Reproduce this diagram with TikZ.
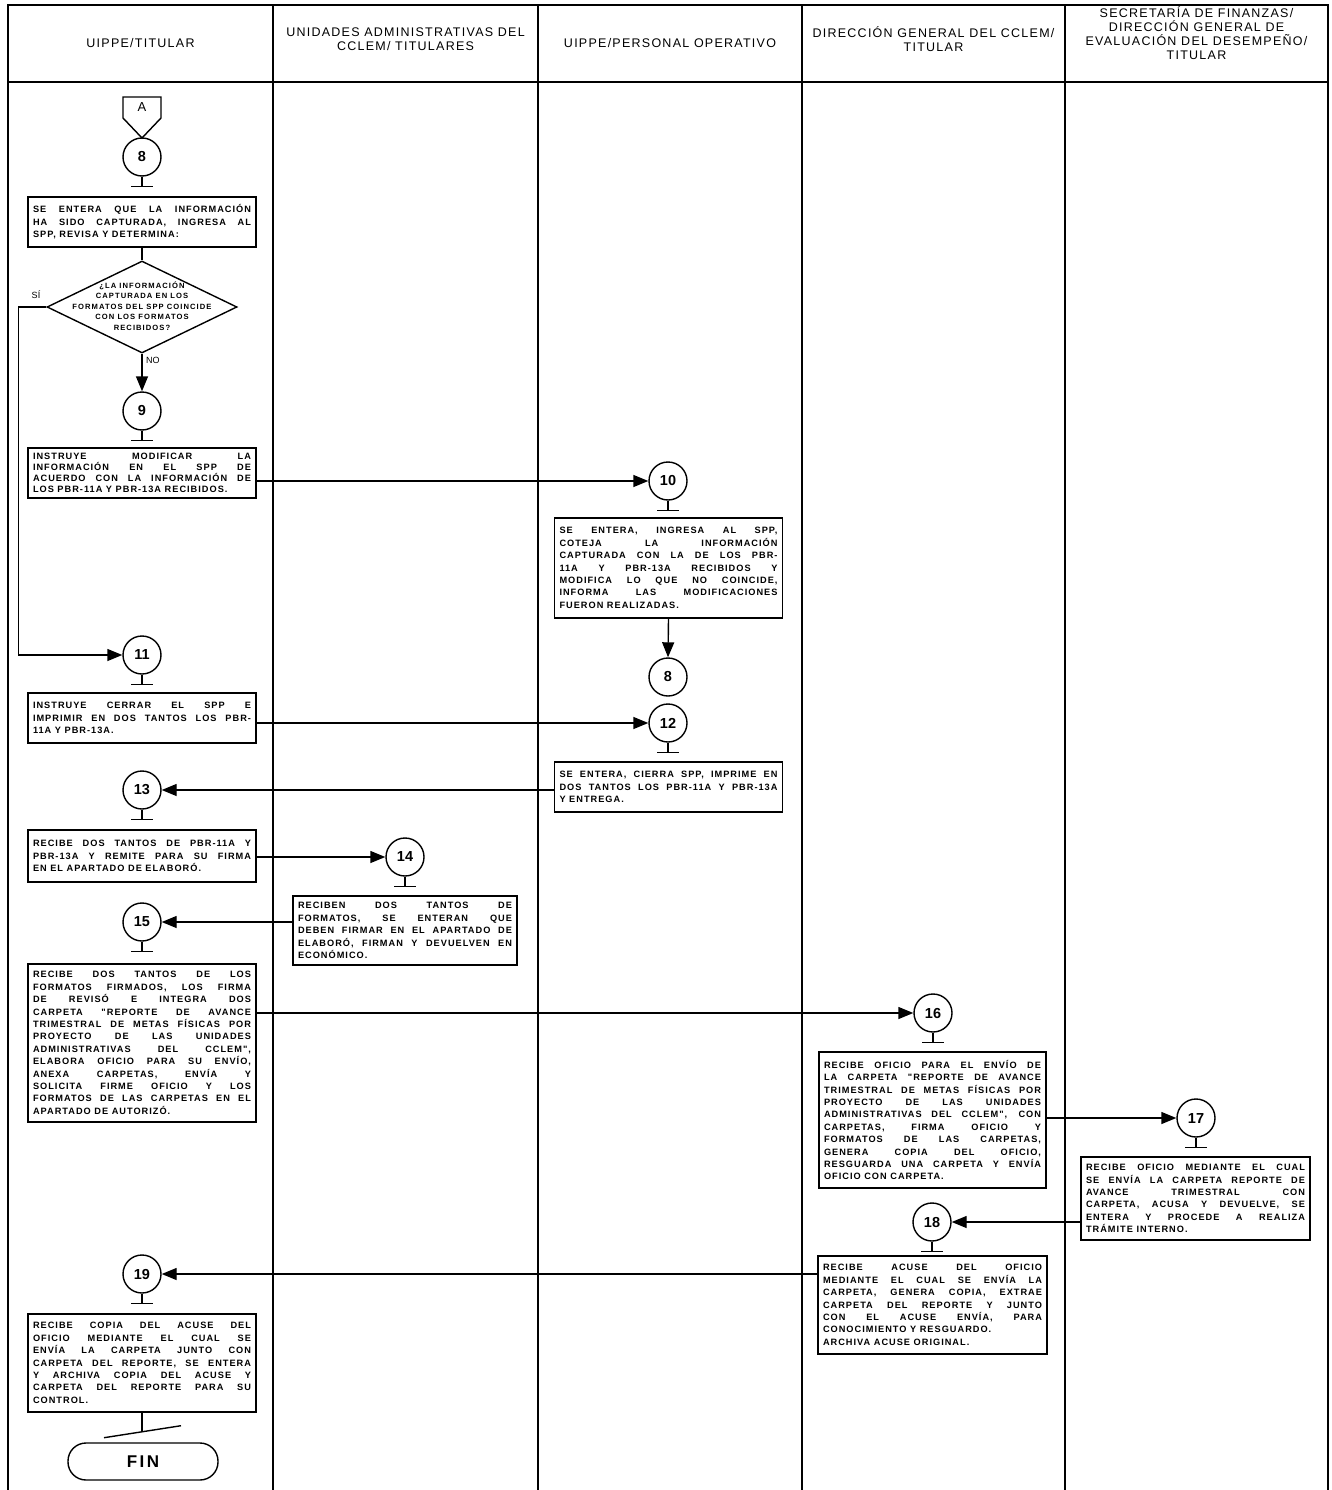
\documentclass[tikz,border=0pt]{standalone}
\usepackage{fontspec}
\setmainfont{Liberation Sans}
\newfontfamily\boxff[LetterSpace=11]{Liberation Sans}
\newfontfamily\dboxff[LetterSpace=14]{Liberation Sans}
\newfontfamily\hdrff[LetterSpace=10]{Liberation Sans}
\usetikzlibrary{arrows.meta,shapes.geometric}
\newcommand\JL[1]{\makebox[\linewidth][s]{\spaceskip=0pt\xspaceskip=0pt\relax#1}\\}
\newcommand\LL[1]{\makebox[\linewidth][l]{\spaceskip=0pt\xspaceskip=0pt\relax#1}}
\newcommand\stemto[1]{\draw[thin line] (#1.south) -- ++(0,10) ++(-11,0) -- ++(22,0);}
\tikzset{
  lane/.style={line width=2.4pt},
  thin line/.style={line width=1.4pt},
  proc/.style={draw, line width=1.4pt, inner xsep=5pt, inner ysep=0pt,
    text width=218pt, minimum width=228pt, align=left,
    font=\boxff\bfseries\fontsize{9.2}{12.4}\selectfont},
  circ/.style={circle, draw, line width=1.4pt, minimum size=38pt, inner sep=0pt,
    font=\bfseries\fontsize{14.5}{14.5}\selectfont},
  arr/.style={line width=1.4pt, -{Triangle[length=15pt,width=12pt]}},
  hdr/.style={font=\hdrff\fontsize{12.5}{13.8}\selectfont, align=center},
  lbl/.style={font=\fontsize{9}{9}\selectfont, inner sep=1pt}
}
\begin{document}
\begin{tikzpicture}[x=1pt,y=-1pt]
\useasboundingbox (0,0) rectangle (1331,1490);
% swimlanes
\draw[lane] (8,1490) -- (8,5) -- (1328,5) -- (1328,1490);
\draw[lane] (8,82) -- (1328,82);
\foreach \x in {273,538,802,1065} \draw[lane] (\x,5) -- (\x,1490);
% headers
\node[hdr] (h1) at (140.5,43) {UIPPE/TITULAR};
\node[hdr] (h2) at (405.5,39) {UNIDADES ADMINISTRATIVAS DEL\\CCLEM/ TITULARES};
\node[hdr] (h3) at (670,43) {UIPPE/PERSONAL OPERATIVO};
\node[hdr] (h4) at (933.5,39) {DIRECCIÓN GENERAL DEL CCLEM/\\TITULAR};
\node[hdr] (h5) at (1196.5,33) {SECRETARÍA DE FINANZAS/\\DIRECCIÓN GENERAL DE\\EVALUACIÓN DEL DESEMPEÑO/\\TITULAR};

% off-page connector A
\draw[thin line] (123,97) -- (161,97) -- (161,118) -- (142,138) -- (123,118) -- cycle;
\node[font=\fontsize{13}{13}\selectfont] (offA) at (142,107) {A};

\node[circ] (c8) at (142,157) {8};
\stemto{c8}
\node[proc, minimum height=50pt] (b1) at (142,222) {\JL{SE ENTERA QUE LA INFORMACIÓN}\JL{HA SIDO CAPTURADA, INGRESA AL}\LL{SPP, REVISA Y DETERMINA:}};

\node[diamond, draw, line width=1.4pt, minimum width=190pt, minimum height=92pt, inner sep=0pt] (dec) at (142,307) {};
\node[font=\dboxff\bfseries\fontsize{7.6}{10.5}\selectfont, align=center] (dect) at (142,306) {¿LA INFORMACIÓN\\CAPTURADA EN LOS\\FORMATOS DEL SPP COINCIDE\\CON LOS FORMATOS\\RECIBIDOS?};
\draw[thin line] (b1.south) -- (dec.north);

\node[circ] (c9) at (142,411) {9};
\stemto{c9}
\draw[arr] (dec.south) -- (c9.north);
\node[lbl, anchor=west] (no) at (145,360) {NO};
\node[lbl] (si) at (36,295) {SÍ};

\node[proc, minimum height=50pt, font=\boxff\bfseries\fontsize{9.2}{11}\selectfont] (b2) at (142,473) {\JL{INSTRUYE MODIFICAR LA}\JL{INFORMACIÓN EN EL SPP DE}\JL{ACUERDO CON LA INFORMACIÓN DE}\LL{LOS PBR-11A Y PBR-13A RECIBIDOS.}};

\node[circ] (c10) at (668,481) {10};
\stemto{c10}
\draw[arr] (b2.east |- c10) -- (c10.west);

\node[proc, minimum height=100pt] (b3) at (668.5,568) {\JL{SE ENTERA, INGRESA AL SPP,}\JL{COTEJA LA INFORMACIÓN}\JL{CAPTURADA CON LA DE LOS PBR-}\JL{11A Y PBR-13A RECIBIDOS Y}\JL{MODIFICA LO QUE NO COINCIDE,}\JL{INFORMA LAS MODIFICACIONES}\LL{FUERON REALIZADAS.}};

\node[circ] (c8b) at (668,677) {8};
\draw[arr] (b3.south) -- (c8b.north);

\node[circ] (c11) at (142,655) {11};
\stemto{c11}
\draw[arr] (dec.west) -- ++(-28,0) |- (c11.west);

\node[proc, minimum height=50pt] (b4) at (142,718) {\JL{INSTRUYE CERRAR EL SPP E}\JL{IMPRIMIR EN DOS TANTOS LOS PBR-}\LL{11A Y PBR-13A.}};

\node[circ] (c12) at (668,723) {12};
\stemto{c12}
\draw[arr] (b4.east |- c12) -- (c12.west);

\node[proc, minimum height=50pt] (b5) at (668.5,787) {\JL{SE ENTERA, CIERRA SPP, IMPRIME EN}\JL{DOS TANTOS LOS PBR-11A Y PBR-13A}\LL{Y ENTREGA.}};

\node[circ] (c13) at (142,790) {13};
\stemto{c13}
\draw[arr] (b5.west |- c13) -- (c13.east);

\node[proc, minimum height=52pt] (b6) at (142,856) {\JL{RECIBE DOS TANTOS DE PBR-11A Y}\JL{PBR-13A Y REMITE PARA SU FIRMA}\LL{EN EL APARTADO DE ELABORÓ.}};

\node[circ] (c14) at (405,857) {14};
\stemto{c14}
\draw[arr] (b6.east |- c14) -- (c14.west);

\node[proc, minimum height=69pt, text width=214pt, minimum width=224pt] (b7) at (405,930.5) {\JL{RECIBEN DOS TANTOS DE}\JL{FORMATOS, SE ENTERAN QUE}\JL{DEBEN FIRMAR EN EL APARTADO DE}\JL{ELABORÓ, FIRMAN Y DEVUELVEN EN}\LL{ECONÓMICO.}};

\node[circ] (c15) at (142,922) {15};
\stemto{c15}
\draw[arr] (b7.west |- c15) -- (c15.east);

\node[proc, minimum height=158pt] (b8) at (142,1043) {\JL{RECIBE DOS TANTOS DE LOS}\JL{FORMATOS FIRMADOS, LOS FIRMA}\JL{DE REVISÓ E INTEGRA DOS}\JL{CARPETA "REPORTE DE AVANCE}\JL{TRIMESTRAL DE METAS FÍSICAS POR}\JL{PROYECTO DE LAS UNIDADES}\JL{ADMINISTRATIVAS DEL CCLEM",}\JL{ELABORA OFICIO PARA SU ENVÍO,}\JL{ANEXA CARPETAS, ENVÍA Y}\JL{SOLICITA FIRME OFICIO Y LOS}\JL{FORMATOS DE LAS CARPETAS EN EL}\LL{APARTADO DE AUTORIZÓ.}};

\node[circ] (c16) at (933,1013) {16};
\stemto{c16}
\draw[arr] (b8.east |- c16) -- (c16.west);

\node[proc, minimum height=136pt, text width=217pt, minimum width=227pt] (b9) at (932.5,1120) {\JL{RECIBE OFICIO PARA EL ENVÍO DE}\JL{LA CARPETA "REPORTE DE AVANCE}\JL{TRIMESTRAL DE METAS FÍSICAS POR}\JL{PROYECTO DE LAS UNIDADES}\JL{ADMINISTRATIVAS DEL CCLEM", CON}\JL{CARPETAS, FIRMA OFICIO Y}\JL{FORMATOS DE LAS CARPETAS,}\JL{GENERA COPIA DEL OFICIO,}\JL{RESGUARDA UNA CARPETA Y ENVÍA}\LL{OFICIO CON CARPETA.}};

\node[circ] (c17) at (1196,1118) {17};
\stemto{c17}
\draw[arr] (b9.east |- c17) -- (c17.west);

\node[proc, minimum height=83pt, text width=219pt, minimum width=229pt] (b10) at (1195.5,1198.5) {\JL{RECIBE OFICIO MEDIANTE EL CUAL}\JL{SE ENVÍA LA CARPETA REPORTE DE}\JL{AVANCE TRIMESTRAL CON}\JL{CARPETA, ACUSA Y DEVUELVE, SE}\JL{ENTERA Y PROCEDE A REALIZA}\LL{TRÁMITE INTERNO.}};

\node[circ] (c18) at (932,1222) {18};
\stemto{c18}
\draw[arr] (b10.west |- c18) -- (c18.east);

\node[proc, minimum height=98pt, text width=219pt, minimum width=229pt] (b11) at (932.5,1305) {\JL{RECIBE ACUSE DEL OFICIO}\JL{MEDIANTE EL CUAL SE ENVÍA LA}\JL{CARPETA, GENERA COPIA, EXTRAE}\JL{CARPETA DEL REPORTE Y JUNTO}\JL{CON EL ACUSE ENVÍA, PARA}\LL{CONOCIMIENTO Y RESGUARDO.}\\\LL{ARCHIVA ACUSE ORIGINAL.}};

\node[circ] (c19) at (142,1274) {19};
\stemto{c19}
\draw[arr] (b11.west |- c19) -- (c19.east);

\node[proc, minimum height=98pt] (b12) at (142,1363) {\JL{RECIBE COPIA DEL ACUSE DEL}\JL{OFICIO MEDIANTE EL CUAL SE}\JL{ENVÍA LA CARPETA JUNTO CON}\JL{CARPETA DEL REPORTE, SE ENTERA}\JL{Y ARCHIVA COPIA DEL ACUSE Y}\JL{CARPETA DEL REPORTE PARA SU}\LL{CONTROL.}};

\draw[thin line] (b12.south) -- ++(0,18);
\draw[thin line] (b12.south) ++(-38,25) -- ++(77,-12);

\node[draw, line width=1.4pt, rounded corners=18pt, minimum width=150pt, minimum height=37pt,
  font=\dboxff\bfseries\fontsize{17}{17}\selectfont] (fin) at (143,1461.5) {FIN};
\end{tikzpicture}
\end{document}
